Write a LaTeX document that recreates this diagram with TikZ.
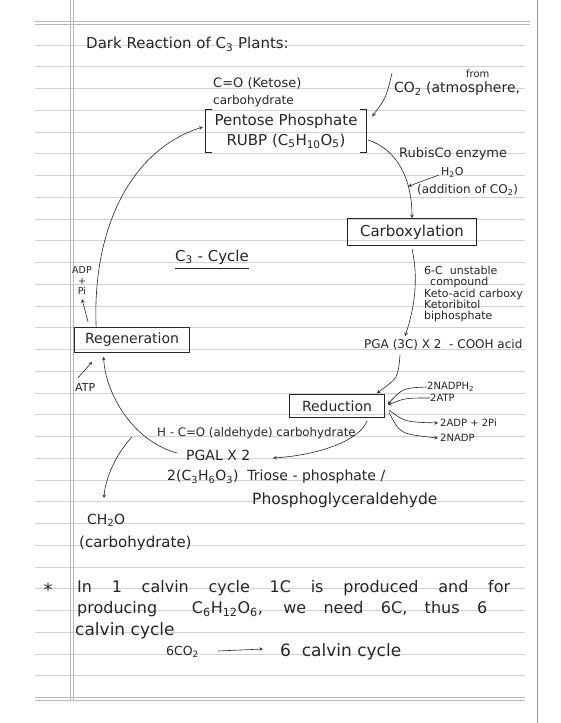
\documentclass[tikz,border=0pt]{standalone}
\usepackage{fontspec}
\setmainfont{DejaVu Sans}
\usepackage{tikz}
\usetikzlibrary{shapes.geometric, arrows, positioning}
\newcommand{\pensize}[1]{\fontsize{#1}{#1}\selectfont}

\begin{document}
\begin{tikzpicture}[x=1pt, y=-1pt]
\tikzstyle{stage} = [rectangle, draw=black!85, line width=0.7pt, inner sep=0pt, text=black!85]
\tikzstyle{note} = [inner sep=0pt, anchor=west, text=black!85]
\tikzstyle{arrow} = [->, >=stealth, black!85, line width=0.6pt]
\tikzstyle{rule} = [gray!35, line width=0.4pt]

\useasboundingbox (0,0) rectangle (560,723);
\foreach \k in {1,...,30} \draw [rule] (35,23+21.75*\k) -- (525,23+21.75*\k);
\draw [gray!55, line width=0.5pt] (35,21) -- (530,21) (35,24) -- (530,24);
\draw [gray!55, line width=0.5pt] (35,697) -- (525,697) (35,700) -- (525,700);
\draw [gray!55, line width=0.5pt] (70,0) -- (70,700) (73,0) -- (73,700);
\draw [gray!80, line width=0.8pt] (537,0) -- (537,723);

\node (title) [note, font=\pensize{15}] at (86,44) {Dark Reaction of C\textsubscript{3} Plants:};
\node (ketose) [note, font=\pensize{13}] at (213,83) {C=O (Ketose)};
\node (carbA) [note, font=\pensize{12}] at (213,101) {carbohydrate};
\node (pent) [rectangle, minimum width=160pt, minimum height=43pt, align=center, inner sep=0pt, font=\fontsize{15}{20}\selectfont, text=black!85] at (286,131) {Pentose Phosphate\\RUBP (C\textsubscript{5}H\textsubscript{10}O\textsubscript{5})};
\draw [black!85, line width=0.7pt] ([shift={(6,0)}]pent.north west) -- (pent.north west) -- (pent.south west) -- ([shift={(6,0)}]pent.south west);
\draw [black!85, line width=0.7pt] ([shift={(-6,0)}]pent.north east) -- (pent.north east) -- (pent.south east) -- ([shift={(-6,0)}]pent.south east);
\node (co2) [note, font=\pensize{14}] at (394,89) {CO\textsubscript{2} (atmosphere,};
\node (from) [note, font=\pensize{10}] at (466,74) {from};
\node (rubisco) [note, font=\pensize{13}] at (399,154) {RubisCo enzyme};
\node (water) [note, font=\pensize{11}] at (441,172) {H\textsubscript{2}O};
\node (addn) [note, font=\pensize{12}] at (417,190) {(addition of CO\textsubscript{2})};
\node (carbox) [stage, minimum width=129pt, minimum height=27pt, font=\pensize{15}] at (412,232) {Carboxylation};
\node (cycle) [note, font=\pensize{15}] at (175,257) {C\textsubscript{3} - Cycle};
\node (keto) [note, align=left, font=\fontsize{11}{11.2}\selectfont] at (424,294) {6-C \ unstable\\\hspace{6pt}compound\\Keto-acid carboxy\\Ketoribitol\\biphosphate};
\node (pga) [note, font=\pensize{12}] at (364,345) {PGA (3C) X 2 \ - COOH acid};
\node (adp) [align=center, inner sep=0pt, font=\fontsize{9.5}{10.5}\selectfont, text=black!85] at (82,281) {ADP\\+\\Pi};
\node (regen) [stage, minimum width=115pt, minimum height=25pt, font=\pensize{14}] at (132,340) {Regeneration};
\node (atp) [note, font=\pensize{11}] at (75,387) {ATP};
\node (redn) [stage, minimum width=95pt, minimum height=23pt, font=\pensize{14}] at (337,406) {Reduction};
\node (nadph) [note, font=\pensize{10}] at (427,387) {2NADPH\textsubscript{2}};
\node (atpb) [note, font=\pensize{10}] at (430,398) {2ATP};
\node (adpb) [note, font=\pensize{10}] at (440,423) {2ADP + 2Pi};
\node (nadp) [note, font=\pensize{10}] at (440,438) {2NADP};
\node (aldeh) [note, font=\pensize{11.8}] at (157,433) {H - C=O (aldehyde) carbohydrate};
\node (pgal) [note, font=\pensize{14}] at (186,455) {PGAL X 2};
\node (triose) [note, font=\pensize{14}] at (167,477) {2(C\textsubscript{3}H\textsubscript{6}O\textsubscript{3}) \ Triose - phosphate /};
\node (phospho) [note, font=\pensize{15.5}] at (252,500) {Phosphoglyceraldehyde};
\node (ch2o) [note, font=\pensize{14}] at (87,520) {CH\textsubscript{2}O};
\node (carbB) [note, font=\pensize{15}] at (79,543) {(carbohydrate)};
\node (star) [inner sep=0pt, font=\pensize{18}, text=black!85] at (48,590) {*};
\node (lineA) [note, font=\pensize{16}] at (77,588) {\makebox[433pt][s]{In 1 calvin cycle 1C is produced and for}};
\node (lineB) [note, font=\pensize{16}] at (77,609) {\makebox[410pt][s]{producing \ C\textsubscript{6}H\textsubscript{12}O\textsubscript{6}, we need 6C, thus 6}};
\node (lineC) [note, font=\pensize{17}] at (75,631) {calvin cycle};
\node (sixco2) [note, font=\pensize{12.5}] at (166,652) {6CO\textsubscript{2}};
\node (sixcyc) [note, font=\pensize{17}] at (280,652) {6 \ calvin cycle};

\draw [black!85, line width=0.6pt] ([shift={(0,4)}]cycle.south west) -- ([shift={(0,4)}]cycle.south east);
\draw [arrow] ([shift={(-2,-16)}]co2.west) .. controls (386,98) .. ([shift={(6,7)}]pent.north east);
\draw [arrow] ([shift={(2,9)}]pent.east) .. controls (398,150) and (412,180) .. (carbox.north) coordinate[pos=0.7] (fix);
\draw [arrow] ([shift={(-2,3)}]water.west) -- (fix);
\draw [arrow] ([shift={(0,3)}]carbox.south) .. controls (419,280) and (414,310) .. ([shift={(41,-9)}]pga.west);
\draw [arrow] ([shift={(36,10)}]pga.west) .. controls (398,378) .. ([shift={(-8,-1)}]redn.north east);
\draw [arrow] (nadph.west) .. controls (403,388) .. ([shift={(3,-2)}]redn.east);
\draw [arrow] (atpb.west) .. controls (405,398) .. ([shift={(3,-1)}]redn.east);
\draw [arrow] ([shift={(4,4)}]redn.east) .. controls (405,422) .. ([shift={(-2,0)}]adpb.west);
\draw [arrow] ([shift={(4,6)}]redn.east) .. controls (400,434) .. ([shift={(-2,0)}]nadp.west);
\draw [arrow] ([shift={(30,3)}]redn.south) .. controls (360,440) and (320,455) .. ([shift={(87,3)}]pgal.west);
\draw [arrow] ([shift={(-9,-2)}]pgal.west) .. controls (130,440) and (105,390) .. ([shift={(29.5,4)}]regen.south west);
\draw [arrow] ([shift={(22,0)}]regen.north west) .. controls (92,230) and (130,150) .. ([shift={(-3,-4)}]pent.west);
\draw [arrow] ([shift={(14,-5)}]regen.north west) -- ([shift={(0,4)}]adp.south);
\draw [arrow] ([shift={(3,-5)}]atp.north west) -- ([shift={(18,9)}]regen.south west);
\draw [arrow] ([shift={(-25,4)}]aldeh.west) .. controls (115,455) and (105,480) .. ([shift={(17,-22)}]ch2o.west);
\draw [arrow] ([shift={(52,-1)}]sixco2.west) -- ([shift={(-17,-3)}]sixcyc.west);
\end{tikzpicture}
\end{document}
